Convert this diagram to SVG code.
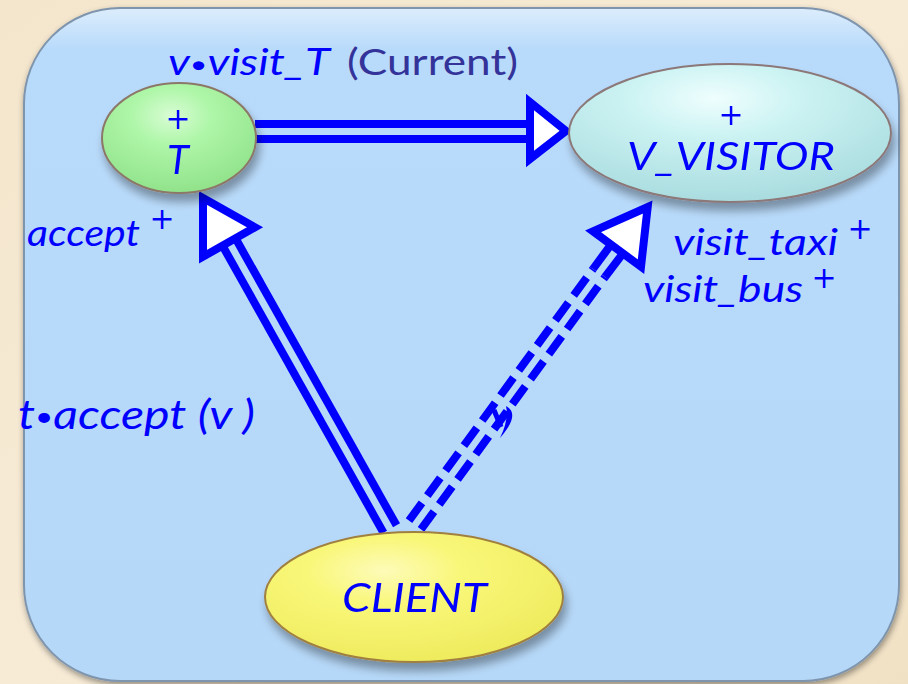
<svg xmlns="http://www.w3.org/2000/svg" width="908" height="684" viewBox="0 0 908 684">
  <defs>
    <linearGradient id="bg" x1="0" y1="0" x2="1" y2="1">
      <stop offset="0" stop-color="#f4e6cc"/>
      <stop offset="0.5" stop-color="#f7ebd6"/>
      <stop offset="1" stop-color="#f1e1c4"/>
    </linearGradient>
    <linearGradient id="panelFill" x1="0" y1="0" x2="0" y2="1">
      <stop offset="0" stop-color="#dcedfc"/>
      <stop offset="0.06" stop-color="#b9dbfb"/>
      <stop offset="1" stop-color="#b6d8f8"/>
    </linearGradient>
    <radialGradient id="gGreen" cx="0.45" cy="0.3" r="0.75">
      <stop offset="0" stop-color="#d8fcd4"/>
      <stop offset="0.35" stop-color="#aef6a8"/>
      <stop offset="1" stop-color="#8ee088"/>
    </radialGradient>
    <radialGradient id="gCyan" cx="0.45" cy="0.25" r="0.75">
      <stop offset="0" stop-color="#effefe"/>
      <stop offset="0.35" stop-color="#cdf3f3"/>
      <stop offset="1" stop-color="#a9dcdf"/>
    </radialGradient>
    <radialGradient id="gYellow" cx="0.4" cy="0.3" r="0.75">
      <stop offset="0" stop-color="#fdfbb8"/>
      <stop offset="0.35" stop-color="#f9f778"/>
      <stop offset="1" stop-color="#eeea5c"/>
    </radialGradient>
    <filter id="shadow" x="-20%" y="-20%" width="140%" height="150%">
      <feGaussianBlur in="SourceAlpha" stdDeviation="5"/>
      <feOffset dx="3" dy="8" result="b"/>
      <feComponentTransfer><feFuncA type="linear" slope="0.35"/></feComponentTransfer>
      <feMerge><feMergeNode/><feMergeNode in="SourceGraphic"/></feMerge>
    </filter>
    <filter id="panelShadow" x="-5%" y="-5%" width="110%" height="110%">
      <feGaussianBlur in="SourceAlpha" stdDeviation="3"/>
      <feOffset dx="1" dy="3"/>
      <feComponentTransfer><feFuncA type="linear" slope="0.4"/></feComponentTransfer>
      <feMerge><feMergeNode/><feMergeNode in="SourceGraphic"/></feMerge>
    </filter>
    <style>
      .lbl { font-family: Lato, "Noto Sans", "DejaVu Sans", sans-serif; font-style: italic; fill: #0000ff; }
      .plain { font-family: Lato, "Noto Sans", "DejaVu Sans", sans-serif; fill: #333399; }
      .plus { font-family: "DejaVu Sans", sans-serif; font-size: 30px; fill: #0000ff; text-anchor: middle; }
      .dot { font-style: normal; }
      .link { stroke: #0000ff; stroke-width: 8; fill: none; }
      .dash { stroke: #0000ff; stroke-width: 8; fill: none; stroke-dasharray: 22 9; }
      .head { stroke: #0000ff; stroke-width: 8; fill: #ffffff; stroke-linejoin: miter; }
    </style>
  </defs>

  <!-- backdrop and panel -->
  <rect x="0" y="0" width="908" height="684" fill="url(#bg)"/>
  <rect x="24" y="8" width="875" height="673" rx="96" ry="96" fill="url(#panelFill)" stroke="#7f95ad" stroke-width="2" filter="url(#panelShadow)"/>

  <!-- connectors -->
  <g id="connectors">
    <!-- T to V_VISITOR -->
    <line class="link" x1="255" y1="124" x2="531" y2="124"/>
    <line class="link" x1="255" y1="139" x2="531" y2="139"/>
    <polygon class="head" points="530,102 566,131 530,159"/>
    <!-- CLIENT to T -->
    <line class="link" x1="383.5" y1="532.7" x2="222.5" y2="245.7"/>
    <line class="link" x1="396.5" y1="525.3" x2="235.5" y2="238.3"/>
    <polygon class="head" points="203,198 255,227.3 203,256.7"/>
    <!-- CLIENT to V_VISITOR (dashed) -->
    <line class="dash" x1="409" y1="520.6" x2="593" y2="269"/>
    <line class="dash" x1="421" y1="529.4" x2="605" y2="277"/>
    <line class="link" x1="593" y1="269" x2="611" y2="244.6"/>
    <line class="link" x1="605" y1="277" x2="623" y2="253.4"/>
    <polygon class="head" points="647.7,207 641,266.7 593,231.3"/>
    <!-- small mark on the dashed link -->
    <path d="M494,410 L501,427" stroke="#0000ff" stroke-width="5" fill="none"/>
    <path d="M506,406 Q521,414 500,438 Q509,420 506,406 Z" fill="#0000ff"/>
  </g>

  <!-- nodes -->
  <g id="node-T" filter="url(#shadow)">
    <ellipse cx="179" cy="138" rx="77" ry="55" fill="url(#gGreen)" stroke="#8c7868" stroke-width="2"/>
    <text class="plus" x="178" y="129">+</text>
    <text class="lbl" x="178" y="174" font-size="40" text-anchor="middle">T</text>
  </g>

  <g id="node-V_VISITOR" filter="url(#shadow)">
    <ellipse cx="730" cy="133" rx="161" ry="69" fill="url(#gCyan)" stroke="#8c7878" stroke-width="2"/>
    <text class="plus" x="731" y="125">+</text>
    <text class="lbl" x="627" y="170" font-size="39" textLength="208" lengthAdjust="spacingAndGlyphs">V_VISITOR</text>
  </g>

  <g id="node-CLIENT" filter="url(#shadow)">
    <ellipse cx="414" cy="597" rx="149" ry="65" fill="url(#gYellow)" stroke="#a08040" stroke-width="2"/>
    <text class="lbl" x="342" y="612" font-size="40" textLength="145" lengthAdjust="spacingAndGlyphs">CLIENT</text>
  </g>

  <!-- labels -->
  <g id="labels">
    <text class="lbl" x="168" y="75" font-size="36" textLength="162" lengthAdjust="spacingAndGlyphs">v<tspan class="dot" font-size="24" dy="-2">•</tspan><tspan dy="2">visit_T</tspan></text>
    <text class="plain" x="347" y="75" font-size="36" textLength="171" lengthAdjust="spacingAndGlyphs">(Current)</text>
    <text class="lbl" x="27" y="246" font-size="36" textLength="113" lengthAdjust="spacingAndGlyphs">accept</text>
    <text class="plus" x="162" y="229">+</text>
    <text class="lbl" x="673" y="255" font-size="36" textLength="165" lengthAdjust="spacingAndGlyphs">visit_taxi</text>
    <text class="plus" x="860" y="239">+</text>
    <text class="lbl" x="643" y="302" font-size="36" textLength="160" lengthAdjust="spacingAndGlyphs">visit_bus</text>
    <text class="plus" x="824" y="288">+</text>
    <text class="lbl" x="18" y="429" font-size="40" textLength="237" lengthAdjust="spacingAndGlyphs">t<tspan class="dot" font-size="26" dy="-3">•</tspan><tspan dy="3">accept (v )</tspan></text>
  </g>
</svg>
